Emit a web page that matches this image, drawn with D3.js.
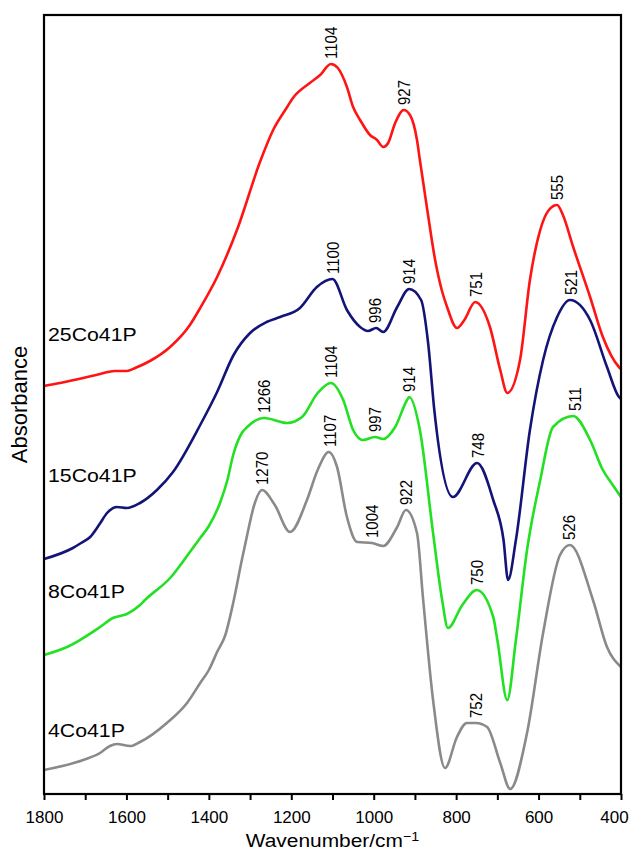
<!DOCTYPE html>
<html>
<head>
<meta charset="utf-8">
<script src="https://cdn.jsdelivr.net/npm/d3@7"></script>
<style>
  body { margin: 0; background: #fff; }
  svg text { font-family: "Liberation Sans", Arial, sans-serif; fill: #000; }
</style>
</head>
<body>
<div id="chart"></div>
<script>
"use strict";

// spectra: [wavenumber, absorbance (a.u.)]
var red25 = [
  [1800, 4.08], [1761, 4.11], [1705, 4.16], [1664, 4.20], [1628, 4.23], [1599, 4.23],
  [1579, 4.26], [1543, 4.33], [1494, 4.47], [1446, 4.69], [1421, 4.86], [1380, 5.17],
  [1330, 5.66], [1276, 6.32], [1244, 6.64], [1210, 6.87], [1196, 6.96], [1155, 7.11],
  [1130, 7.19], [1104, 7.30], [1087, 7.26], [1065, 7.07], [1050, 6.87], [1033, 6.74],
  [1009, 6.59], [992, 6.54], [977, 6.47], [965, 6.51], [948, 6.71], [927, 6.84],
  [912, 6.79], [895, 6.54], [888, 6.34], [870, 5.84], [851, 5.34], [835, 5.04],
  [822, 4.87], [798, 4.66], [780, 4.74], [754, 4.92], [718, 4.67], [693, 4.24],
  [676, 4.01], [645, 4.34], [621, 5.14], [596, 5.64], [575, 5.84], [555, 5.89],
  [541, 5.79], [516, 5.47], [475, 4.97], [444, 4.57], [405, 4.27], [400, 4.25]
];
var blue15 = [
  [1800, 2.35], [1730, 2.46], [1710, 2.51], [1688, 2.57], [1665, 2.70], [1647, 2.81],
  [1623, 2.87], [1599, 2.86], [1567, 2.91], [1526, 3.04], [1487, 3.22], [1421, 3.69],
  [1380, 4.02], [1340, 4.39], [1300, 4.61], [1260, 4.72], [1227, 4.77], [1179, 4.86],
  [1138, 5.07], [1100, 5.15], [1065, 4.84], [1033, 4.67], [1014, 4.63], [994, 4.66],
  [977, 4.62], [943, 4.87], [914, 5.05], [885, 4.94], [868, 4.51], [853, 3.84],
  [808, 2.97], [749, 3.31], [710, 2.94], [685, 2.54], [674, 2.14], [655, 2.54],
  [621, 3.64], [589, 4.34], [555, 4.77], [524, 4.94], [475, 4.74], [434, 4.27],
  [405, 3.97], [400, 3.95]
];
var green8 = [
  [1800, 1.39], [1744, 1.47], [1664, 1.67], [1633, 1.76], [1599, 1.80], [1567, 1.89],
  [1555, 1.94], [1494, 2.16], [1446, 2.42], [1421, 2.56], [1400, 2.68], [1373, 2.91],
  [1355, 3.14], [1341, 3.39], [1320, 3.61], [1307, 3.67], [1266, 3.76], [1210, 3.71],
  [1174, 3.77], [1136, 4.01], [1104, 4.11], [1074, 3.94], [1050, 3.64], [1026, 3.54],
  [997, 3.57], [977, 3.55], [948, 3.67], [919, 3.94], [914, 3.97], [888, 3.64],
  [856, 2.61], [834, 1.94], [820, 1.66], [785, 1.89], [750, 2.04], [710, 1.77],
  [700, 1.54], [676, 0.94], [655, 1.54], [628, 2.44], [596, 3.14], [565, 3.67],
  [516, 3.78], [475, 3.54], [444, 3.24], [420, 3.09], [400, 2.97]
];
var gray4 = [
  [1800, 0.24], [1705, 0.34], [1664, 0.41], [1640, 0.48], [1623, 0.50], [1591, 0.48],
  [1567, 0.52], [1502, 0.71], [1453, 0.91], [1421, 1.11], [1400, 1.24], [1380, 1.42],
  [1360, 1.59], [1341, 1.91], [1320, 2.34], [1307, 2.59], [1290, 2.89], [1271, 3.04],
  [1240, 2.89], [1203, 2.62], [1162, 2.94], [1136, 3.24], [1109, 3.42], [1089, 3.27],
  [1065, 2.77], [1040, 2.52], [1004, 2.51], [977, 2.48], [943, 2.67], [922, 2.84],
  [895, 2.61], [880, 1.94], [856, 0.94], [827, 0.26], [798, 0.57], [774, 0.71],
  [752, 0.71], [725, 0.67], [693, 0.31], [669, 0.05], [628, 0.61], [589, 1.61],
  [548, 2.39], [524, 2.49], [468, 1.94], [434, 1.47], [400, 1.27]
];

var seriesNames = ["25Co41P", "15Co41P", "8Co41P", "4Co41P"];
var seriesColors = ["#ff1414", "#141478", "#22e022", "#8a8a8a"];
var seriesData = [red25, blue15, green8, gray4];
var seriesLabelY = [341, 482, 598, 737];

// peak labels per series
var peaks25 = [1104, 927, 751, 555];
var peaks15 = [1100, 996, 914, 748, 521];
var peaks8 = [1266, 1104, 997, 914, 750, 511];
var peaks4 = [1270, 1107, 1004, 922, 752, 526];
var seriesPeaks = [peaks25, peaks15, peaks8, peaks4];

var xTicks = [1800, 1700, 1600, 1500, 1400, 1300, 1200, 1100, 1000, 900, 800, 700, 600, 500, 400];

var W = 630, H = 854;
var margin = { left: 44, right: 9, top: 15, bottom: 60 };
var innerW = W - margin.left - margin.right;
var innerH = H - margin.top - margin.bottom;

var svg = d3.select("#chart").append("svg")
  .attr("width", W).attr("height", H);

var g = svg.append("g")
  .attr("transform", "translate(" + margin.left + "," + margin.top + ")");

var x = d3.scaleLinear().domain([1800, 400]).range([0, innerW]);
var y = d3.scaleLinear().domain([0, 7.79]).range([innerH, 0]);

var line = d3.line()
  .x(function (d) { return x(d[0]); })
  .y(function (d) { return y(d[1]); })
  .curve(d3.curveMonotoneX);

seriesData.forEach(function (data, i) {
  g.append("path")
    .datum(data)
    .attr("fill", "none")
    .attr("stroke", seriesColors[i])
    .attr("stroke-width", 2.6)
    .attr("stroke-linejoin", "round")
    .attr("d", line);
});

// value of a spectrum at a wavenumber (linear between read points)
function valueAt(data, wn) {
  for (var k = 0; k < data.length - 1; k++) {
    var a = data[k], b = data[k + 1];
    if (wn <= a[0] && wn >= b[0]) {
      var t = (a[0] - wn) / (a[0] - b[0]);
      return a[1] + t * (b[1] - a[1]);
    }
  }
  return data[data.length - 1][1];
}

seriesPeaks.forEach(function (peaks, i) {
  var data = seriesData[i];
  peaks.forEach(function (p) {
    var v = d3.max(data.filter(function (d) { return Math.abs(d[0] - p) < 12; }), function (d) { return d[1]; });
    if (v === undefined) v = valueAt(data, p);
    g.append("g")
      .attr("transform", "translate(" + x(p) + "," + (y(v) - 5) + ") scale(1.12,1)")
      .append("text")
      .attr("transform", "rotate(-90)")
      .attr("dy", "0.36em")
      .style("font-size", "15px")
      .text(p);
  });
});

seriesNames.forEach(function (name, i) {
  svg.append("g")
    .attr("transform", "translate(48," + seriesLabelY[i] + ") scale(1.12,1)")
    .append("text")
    .style("font-size", "19px")
    .text(name);
});

// bottom axis
var xAxis = d3.axisBottom(x)
  .tickValues(xTicks)
  .tickSize(6)
  .tickPadding(11)
  .tickFormat(function (d) { return d % 200 === 0 ? d : ""; });

var ax = g.append("g")
  .attr("transform", "translate(0," + innerH + ")")
  .call(xAxis);
ax.select(".domain").remove();
ax.selectAll(".tick line").attr("stroke", "#000").attr("stroke-width", 2);
ax.selectAll(".tick text")
  .style("font-size", "17px")
  .style("font-family", "'Liberation Sans', Arial, sans-serif")
  .attr("dx", function (d) { return d === 400 ? -7 : 0; });

// frame
g.append("rect")
  .attr("x", 0).attr("y", 0)
  .attr("width", innerW).attr("height", innerH)
  .attr("fill", "none")
  .attr("stroke", "#000")
  .attr("stroke-width", 2.2);

// axis titles
var xt = svg.append("g")
  .attr("transform", "translate(" + (margin.left + innerW / 2) + ",847) scale(1.1,1)")
  .append("text")
  .attr("text-anchor", "middle")
  .style("font-size", "19px");
xt.append("tspan").text("Wavenumber/cm");
xt.append("tspan").attr("dy", "-0.45em").style("font-size", "13px").text("\u22121");

svg.append("text")
  .attr("transform", "translate(27," + (margin.top + innerH / 2) + ") rotate(-90)")
  .attr("text-anchor", "middle")
  .style("font-size", "22px")
  .text("Absorbance");
</script>
</body>
</html>
